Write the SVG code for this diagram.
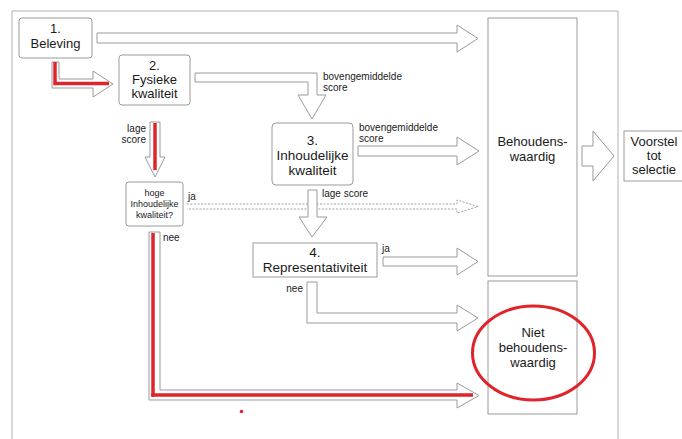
<svg xmlns="http://www.w3.org/2000/svg" width="682" height="439" viewBox="0 0 682 439">
<style>
.bx{fill:#fff;stroke:#9a9a9a;stroke-width:1}
.ar{fill:#fff;stroke:#9a9a9a;stroke-width:1;stroke-linejoin:miter}
.dot{fill:none;stroke:#a0a0a0;stroke-width:1;stroke-dasharray:2,1.5}
.red{fill:none;stroke:#e0242c;stroke-width:3.5}
text{font-family:"Liberation Sans",Arial,sans-serif;fill:#1a1a1a}
.t13{font-size:13px;text-anchor:middle}
.t14{font-size:13.5px;text-anchor:middle}
.t10{font-size:10px}
.t9{font-size:9px;text-anchor:middle}
</style>
<rect x="0" y="0" width="682" height="439" fill="#fff"/>
<path d="M12,439 V11 H618 V439" fill="none" stroke="#b0b0b0" stroke-width="1"/>

<g id="connectors">
<path class="ar" d="M97,33 H457 V25 L478,38.5 L457,52 V43 H97 Z"/>
<path class="ar" d="M52,62 H59 V79 H93 V71 L113,84 L93,97 V88 H52 Z"/>
<path class="ar" d="M195,73 H317 V95 H326 L312,119 L298,95 H308 V82 H195 Z"/>
<path class="ar" d="M150,122 H160 V157 H165 L155,177 L145,157 H150 Z"/>
<path class="ar" d="M358,146 H457 V137 L479,151 L457,165 V156 H358 Z"/>
<path class="dot" d="M187,204 H457 V200 L478,206.5 L457,213 V209 H187"/>
<path class="ar" d="M308,190 H317 V217 H327 L312,237 L299,217 H308 Z"/>
<path class="ar" d="M383,257 H457 V248 L478,261.5 L457,275 V266 H383 Z"/>
<path class="ar" d="M307,282 H317 V313 H457 V305 L478,318 L457,331 V323 H307 Z"/>
<path class="ar" d="M149,232 H160 V390 H457 V383 L479,395.5 L457,408 V400 H149 Z"/>
<path class="ar" d="M582,146 H593 V131 L614,156 L593,181 V166 H582 Z"/>
<path class="red" d="M55,62 V83.5 H109"/>
<path class="red" d="M155,123 V170"/>
<path class="red" d="M153,233 V395 H473"/>
<circle cx="153" cy="395" r="2" fill="#e0242c"/>
<circle cx="241.5" cy="411.5" r="1.8" fill="#e0242c"/>
<text class="t10" x="323" y="80">bovengemiddelde</text>
<text class="t10" x="323" y="91">score</text>
<text class="t10" x="359" y="131">bovengemiddelde</text>
<text class="t10" x="359" y="142">score</text>
<text class="t10" x="146" y="132" text-anchor="end">lage</text>
<text class="t10" x="146" y="143" text-anchor="end">score</text>
<text class="t10" x="188" y="200">ja</text>
<text class="t10" x="322" y="197">lage score</text>
<text class="t10" x="382" y="252">ja</text>
<text class="t10" x="303" y="292" text-anchor="end">nee</text>
<text class="t10" x="163" y="241">nee</text>
</g>

<g id="n1"><rect class="bx" x="19" y="18" width="73" height="40" rx="3"/>
<text class="t13" x="55.5" y="33">1.</text><text class="t13" x="55.5" y="48">Beleving</text></g>

<g id="n2"><rect class="bx" x="119" y="55" width="71" height="50" rx="3"/>
<text class="t13" x="154.5" y="70">2.</text><text class="t13" x="154.5" y="84">Fysieke</text><text class="t13" x="154.5" y="98">kwaliteit</text></g>

<g id="n3"><rect class="bx" x="272" y="123" width="81" height="62" rx="4"/>
<text class="t14" x="312.5" y="145">3.</text><text class="t14" x="312.5" y="160">Inhoudelijke</text><text class="t14" x="312.5" y="175">kwaliteit</text></g>

<g id="nq"><rect class="bx" x="126" y="182" width="57" height="44" rx="3"/>
<text class="t9" x="154.5" y="196">hoge</text><text class="t9" x="154.5" y="207">Inhoudelijke</text><text class="t9" x="154.5" y="218">kwaliteit?</text></g>

<g id="n4"><rect class="bx" x="253" y="243" width="124" height="34"/>
<text class="t14" x="315" y="257">4.</text><text class="t14" x="315" y="272">Representativiteit</text></g>

<g id="nb"><rect class="bx" x="488" y="18" width="89" height="258"/>
<text class="t13" x="532.5" y="146">Behoudens-</text><text class="t13" x="532.5" y="161">waardig</text></g>

<g id="nn"><rect class="bx" x="488" y="281" width="89" height="133"/>
<text class="t13" x="533" y="337">Niet</text><text class="t13" x="533" y="352">behoudens-</text><text class="t13" x="533" y="367">waardig</text></g>

<g id="nv"><rect class="bx" x="624" y="131" width="62" height="50"/>
<text class="t13" x="654" y="146">Voorstel</text><text class="t13" x="654" y="160">tot</text><text class="t13" x="654" y="174">selectie</text></g>

<ellipse cx="533.5" cy="353" rx="61" ry="47" fill="none" stroke="#e0242c" stroke-width="3"/>
</svg>
